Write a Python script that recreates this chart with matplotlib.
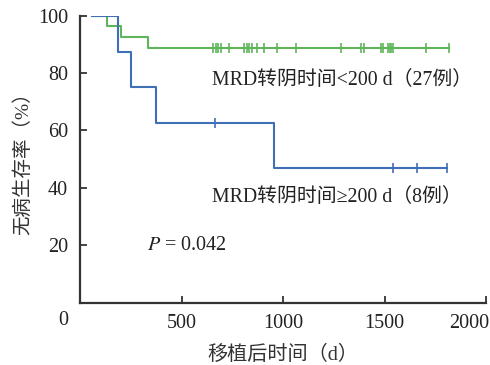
import numpy as np
import matplotlib
matplotlib.use("Agg")
import matplotlib.pyplot as plt
import matplotlib.transforms as mtransforms

plt.rcParams['font.family'] = ['Liberation Serif', 'Noto Sans CJK SC']
plt.rcParams['mathtext.fontset'] = 'stix'

# follow-up start (days after transplant)
start_day = 55

# MRD negative < 200 d (27 cases): event times and censored times
short_events = [133, 201, 335]
short_censor = [654, 667, 679, 694, 735, 807, 820, 832, 847, 871, 906, 970,
                1065, 1286, 1384, 1399, 1480, 1490, 1517, 1525, 1532, 1539,
                1703, 1815]

# MRD negative >= 200 d (8 cases)
long_events = [187, 250, 373, 955]
long_censor = [664, 1540, 1659, 1805]

x_ticks = [500, 1000, 1500, 2000]
y_ticks = [20, 40, 60, 80, 100]

green = '#5fb55a'
blue = '#3f6fb4'


def km_curve(events, censor, t0):
    times = np.array(events + censor, dtype=float)
    status = np.array([1] * len(events) + [0] * len(censor))
    order = np.argsort(times)
    times, status = times[order], status[order]
    n = len(times)
    surv = 1.0
    xs, ys = [t0], [100.0]
    cx, cy = [], []
    for i, (t, s) in enumerate(zip(times, status)):
        at_risk = n - i
        if s == 1:
            xs.append(t)
            ys.append(surv * 100)
            surv *= (at_risk - 1) / at_risk
            xs.append(t)
            ys.append(surv * 100)
        else:
            cx.append(t)
            cy.append(surv * 100)
    xs.append(times[-1])
    ys.append(surv * 100)
    return xs, ys, cx, cy


fig = plt.figure(figsize=(4.9, 3.65), dpi=100)
ax = fig.add_axes([0.164, 0.171, 0.828, 0.786])

for ev, ce, col in [(short_events, short_censor, green), (long_events, long_censor, blue)]:
    xs, ys, cx, cy = km_curve(ev, ce, start_day)
    ax.plot(xs, ys, color=col, lw=1.5)
    ax.plot(cx, cy, ls='none', marker='|', ms=7, mew=1.2, color=col)

ax.set_xlim(0, 2000)
ax.set_ylim(0, 100)
ax.set_xticks(x_ticks)
ax.set_yticks(y_ticks)
ax.tick_params(direction='in', length=5, width=1.3, color='#333333',
               labelsize=14.5, labelcolor='#222222')
ax.tick_params(axis='x', pad=8)
ax.tick_params(axis='y', pad=9)
# last x label sits inside the figure edge
last = ax.get_xticklabels()[-1]
last.set_transform(last.get_transform() +
                   mtransforms.ScaledTranslation(-17 / 100, 0, fig.dpi_scale_trans))

for side in ['top', 'right']:
    ax.spines[side].set_visible(False)
for side in ['left', 'bottom']:
    ax.spines[side].set_color('#333333')
    ax.spines[side].set_linewidth(1.6)

ax.text(-0.042, -0.061, '0', transform=ax.transAxes, ha='center', va='center',
        fontsize=14.5, color='#222222')

ax.set_xlabel('移植后时间（d）', fontsize=14.5, color='#333333', labelpad=9)
ax.set_ylabel('无病生存率（%）', fontsize=14, color='#333333', labelpad=4)

ax.text(650, 77.5, 'MRD转阴时间<200 d（27例）', fontsize=14.3, color='#222222',
        va='center', ha='left')
ax.text(650, 36.5, 'MRD转阴时间≥200 d（8例）', fontsize=14.3, color='#222222',
        va='center', ha='left')
ax.text(330, 20, '$P$ = 0.042', fontsize=14.5, color='#222222', va='center', ha='left')

fig.savefig('out.png', dpi=100)
